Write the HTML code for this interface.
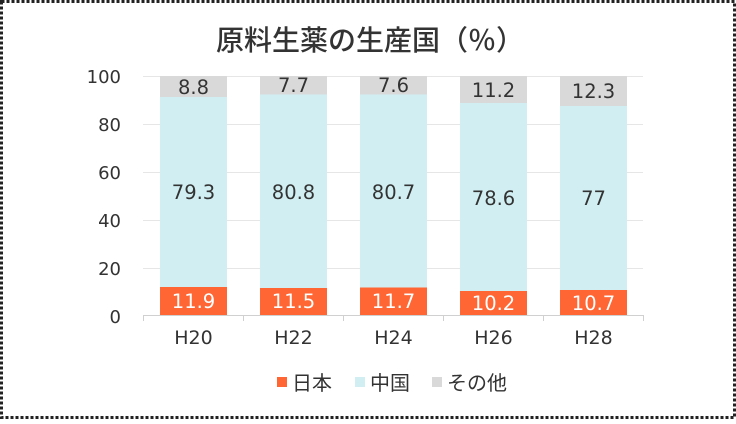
<!DOCTYPE html>
<html><head><meta charset="utf-8"><style>
html,body{margin:0;padding:0;background:#fff}
body{width:736px;height:419px;overflow:hidden}
svg text{font-family:"DejaVu Sans","Noto Sans CJK JP",sans-serif}
</style></head><body>
<svg width="736" height="419" viewBox="0 0 736 419" xmlns="http://www.w3.org/2000/svg">
<rect x="1.5" y="1.5" width="733" height="416" fill="#fff" stroke="#222" stroke-width="3" stroke-dasharray="3,2"/>
<text x="370" y="50" text-anchor="middle" font-size="28" fill="#333" font-weight="500" font-family="Noto Sans CJK JP, sans-serif">原料生薬の生産国（％）</text>
<g stroke="#e6e6e6" stroke-width="1">
<line x1="143" x2="643" y1="76.5" y2="76.5"/>
<line x1="143" x2="643" y1="124.5" y2="124.5"/>
<line x1="143" x2="643" y1="172.5" y2="172.5"/>
<line x1="143" x2="643" y1="220.5" y2="220.5"/>
<line x1="143" x2="643" y1="268.5" y2="268.5"/>
</g>
<g font-size="18" fill="#333" text-anchor="end">
<text x="121" y="83">100</text><text x="121" y="131">80</text><text x="121" y="179">60</text><text x="121" y="227">40</text><text x="121" y="275">20</text><text x="121" y="323">0</text>
</g>
<g font-size="19.5" text-anchor="middle">
<rect x="160" y="287" width="67" height="28.5" fill="#ff6633"/>
<rect x="160" y="97" width="67" height="190" fill="#d1eff3"/>
<rect x="160" y="76" width="67" height="21" fill="#d9d9d9"/>
<text x="193.5" y="308" fill="#fff">11.9</text><text x="193.5" y="199" fill="#333">79.3</text><text x="193.5" y="94" fill="#333">8.8</text>

<rect x="260" y="288" width="67" height="27.5" fill="#ff6633"/>
<rect x="260" y="94.5" width="67" height="193.5" fill="#d1eff3"/>
<rect x="260" y="76" width="67" height="18.5" fill="#d9d9d9"/>
<text x="293.5" y="308" fill="#fff">11.5</text><text x="293.5" y="199" fill="#333">80.8</text><text x="293.5" y="92" fill="#333">7.7</text>

<rect x="360" y="287.5" width="67" height="28" fill="#ff6633"/>
<rect x="360" y="94.5" width="67" height="193" fill="#d1eff3"/>
<rect x="360" y="76" width="67" height="18.5" fill="#d9d9d9"/>
<text x="393.5" y="308" fill="#fff">11.7</text><text x="393.5" y="199" fill="#333">80.7</text><text x="393.5" y="92" fill="#333">7.6</text>

<rect x="460" y="291" width="67" height="24.5" fill="#ff6633"/>
<rect x="460" y="103" width="67" height="188" fill="#d1eff3"/>
<rect x="460" y="76" width="67" height="27" fill="#d9d9d9"/>
<text x="493.5" y="310" fill="#fff">10.2</text><text x="493.5" y="205" fill="#333">78.6</text><text x="493.5" y="97" fill="#333">11.2</text>

<rect x="560" y="290" width="67" height="25.5" fill="#ff6633"/>
<rect x="560" y="106" width="67" height="184" fill="#d1eff3"/>
<rect x="560" y="76" width="67" height="30" fill="#d9d9d9"/>
<text x="593.5" y="310" fill="#fff">10.7</text><text x="593.5" y="205" fill="#333">77</text><text x="593.5" y="98" fill="#333">12.3</text>
</g>
<g stroke="#d0d0d0" stroke-width="1">
<line x1="143" x2="643" y1="315.5" y2="315.5"/>
<line x1="143.5" x2="143.5" y1="315" y2="321"/><line x1="243.5" x2="243.5" y1="315" y2="321"/><line x1="343.5" x2="343.5" y1="315" y2="321"/><line x1="443.5" x2="443.5" y1="315" y2="321"/><line x1="543.5" x2="543.5" y1="315" y2="321"/><line x1="643.5" x2="643.5" y1="315" y2="321"/>
</g>
<g font-size="19" fill="#333" text-anchor="middle">
<text x="193.5" y="344">H20</text><text x="293.5" y="344">H22</text><text x="393.5" y="344">H24</text><text x="493.5" y="344">H26</text><text x="593.5" y="344">H28</text>
</g>
<g font-size="20" fill="#333">
<rect x="277" y="377" width="10" height="10" fill="#ff6633"/><text x="292" y="390">日本</text>
<rect x="355" y="377" width="10" height="10" fill="#d1eff3"/><text x="370" y="390">中国</text>
<rect x="432" y="377" width="10" height="10" fill="#d9d9d9"/><text x="447" y="390">その他</text>
</g>
</svg>
</body></html>
